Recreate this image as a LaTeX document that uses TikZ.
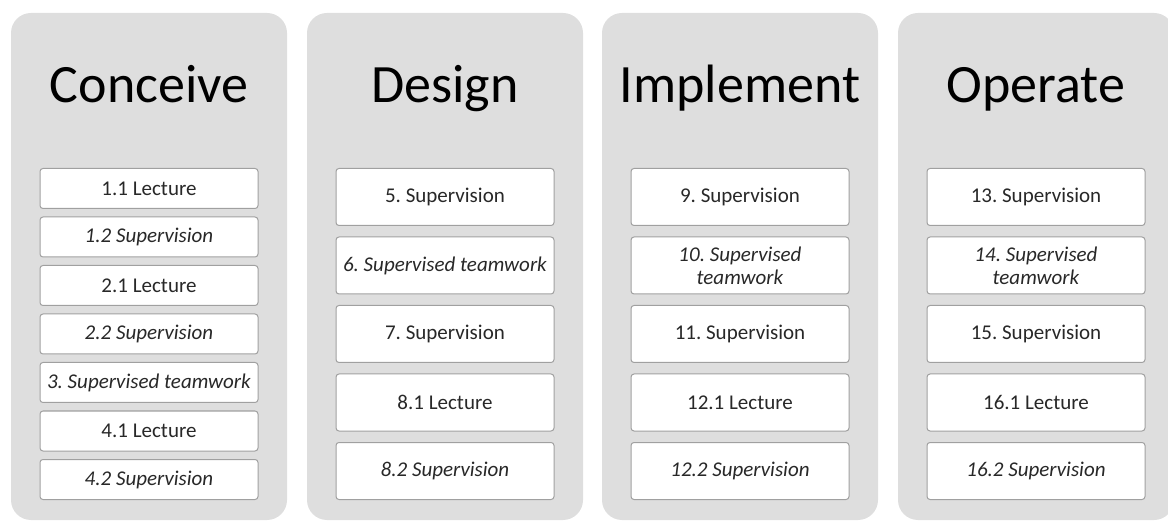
\documentclass[tikz,border=0pt]{standalone}
\usepackage{fontspec}
\setmainfont{Carlito}
\usetikzlibrary{positioning}
\definecolor{panelgray}{RGB}{222,222,222}
\definecolor{boxline}{RGB}{160,160,160}
\definecolor{boxtext}{RGB}{40,40,40}
\frenchspacing

\begin{document}
\begin{tikzpicture}[x=1pt,y=-1pt]
\tikzstyle{panel}=[fill=panelgray, rounded corners=20pt, minimum width=276pt, minimum height=507pt, inner sep=0pt]
\tikzstyle{phase}=[anchor=base, font=\fontsize{54}{62}\selectfont]
\tikzstyle{short}=[draw=boxline, line width=1pt, fill=white, rounded corners=3pt, minimum width=218pt, minimum height=40pt, inner sep=0pt, align=center, text=boxtext, font=\fontsize{21}{23}\selectfont]
\tikzstyle{tall}=[short, minimum height=57pt]
\useasboundingbox (0,0) rectangle (1168,521);

\node[panel] (p1) at (149,266.5) {};
\node[panel] (p2) at (445,266.5) {};
\node[panel] (p3) at (740,266.5) {};
\node[panel] (p4) at (1036,266.5) {};

\node[phase] (t1) at (149,103) {Conceive};
\node[phase] (t2) at (445,103) {Design};
\node[phase] (t3) at (740,103) {Implement};
\node[phase] (t4) at (1036,103) {Operate};

% Conceive
\node[short] (c1) at (149,188.5) {1.1 Lecture};
\node[short] (c2) [below=7.5pt of c1] {\textit{1.2 Supervision}};
\node[short] (c3) [below=7.5pt of c2] {2.1 Lecture};
\node[short] (c4) [below=7.5pt of c3] {\textit{2.2 Supervision}};
\node[short] (c5) [below=7.5pt of c4] {\textit{3. Supervised teamwork}};
\node[short] (c6) [below=7.5pt of c5] {4.1 Lecture};
\node[short] (c7) [below=7.5pt of c6] {\textit{4.2 Supervision}};

% Design
\node[tall] (d1) at (445,197) {5. Supervision};
\node[tall] (d2) [below=10.5pt of d1] {\textit{6. Supervised teamwork}};
\node[tall] (d3) [below=10.5pt of d2] {7. Supervision};
\node[tall] (d4) [below=10.5pt of d3] {8.1 Lecture};
\node[tall] (d5) [below=10.5pt of d4] {\textit{8.2 Supervision}};

% Implement
\node[tall] (i1) at (740,197) {9. Supervision};
\node[tall] (i2) [below=10.5pt of i1] {\textit{10. Supervised}\\\textit{teamwork}};
\node[tall] (i3) [below=10.5pt of i2] {11. Supervision};
\node[tall] (i4) [below=10.5pt of i3] {12.1 Lecture};
\node[tall] (i5) [below=10.5pt of i4] {\textit{12.2 Supervision}};

% Operate
\node[tall] (o1) at (1036,197) {13. Supervision};
\node[tall] (o2) [below=10.5pt of o1] {\textit{14. Supervised}\\\textit{teamwork}};
\node[tall] (o3) [below=10.5pt of o2] {15. Supervision};
\node[tall] (o4) [below=10.5pt of o3] {16.1 Lecture};
\node[tall] (o5) [below=10.5pt of o4] {\textit{16.2 Supervision}};

\end{tikzpicture}
\end{document}
